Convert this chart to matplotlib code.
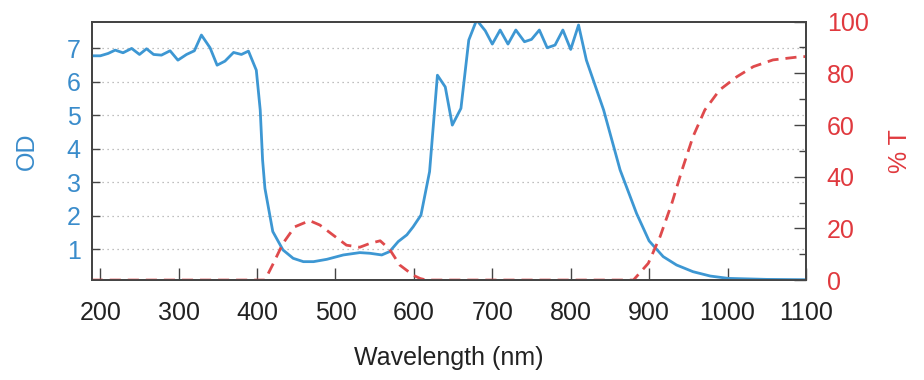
import matplotlib
matplotlib.use("Agg")
from matplotlib import pyplot as plt
from matplotlib.ticker import MultipleLocator

plt.rcParams["font.family"] = ["Liberation Sans", "DejaVu Sans"]

# densidad optica (OD)
od_nm = [189, 200, 210, 219, 229, 240, 250, 259, 268, 278, 289, 299, 310, 320, 329,
         340, 349, 359, 370, 380, 389, 399, 404, 407, 410, 420, 433, 446, 459, 472,
         489, 510, 531, 544, 559, 569, 580, 591, 599, 609, 620, 630, 640, 649, 660,
         670, 680, 691, 700, 710, 720, 730, 741, 750, 760, 770, 780, 790, 800, 810,
         820, 842, 863, 884, 900, 918, 935, 956, 978, 1001, 1050, 1100]
od_val = [6.78, 6.78, 6.85, 6.95, 6.87, 7.0, 6.82, 6.99, 6.82, 6.8, 6.93, 6.65, 6.82, 6.93, 7.4,
          7.02, 6.5, 6.62, 6.88, 6.82, 6.92, 6.35, 5.16, 3.67, 2.82, 1.53, 0.98, 0.73, 0.63, 0.63,
          0.70, 0.83, 0.90, 0.88, 0.83, 0.93, 1.23, 1.43, 1.67, 2.02, 3.32, 6.2, 5.85, 4.71, 5.21,
          7.25, 7.85, 7.53, 7.13, 7.55, 7.13, 7.55, 7.2, 7.27, 7.55, 7.02, 7.1, 7.55, 6.97, 7.7,
          6.65, 5.16, 3.37, 2.07, 1.25, 0.78, 0.53, 0.33, 0.2, 0.13, 0.1, 0.09]

# transmision (%T)
t_nm = [189, 410, 420, 433, 448, 467, 480, 497, 514, 531, 544, 557, 569, 582, 599,
        608, 616, 880, 899, 914, 929, 942, 956, 971, 990, 1012, 1033, 1058, 1092, 1100]
t_val = [0, 0, 6, 14.2, 20.6, 23, 21.3, 17.4, 13.5, 12.7, 14.2, 15.2, 11.9, 5.8, 1.9,
         0.6, 0, 0, 6.5, 16.8, 29.7, 42.6, 55.5, 65.8, 73.6, 78.7, 82.6, 85.2, 86.4, 86.5]

azul = "#3d97d3"
azul_txt = "#3a8ccb"
rojo = "#df4a4c"
rojo_txt = "#e0393e"
gris = "#444444"
tam = 18

fig = plt.figure(figsize=(9.24, 3.8), dpi=100)
ax = fig.add_axes([0.0992, 0.263, 0.773, 0.680])
ax2 = ax.twinx()

ax.plot(od_nm, od_val, color=azul, linewidth=2.0, zorder=3)
ax2.plot(t_nm, t_val, color=rojo, linewidth=2.0, linestyle=(0, (4, 2.5)))

ax.set_xlim(189, 1100)
ax.set_ylim(0.08, 7.8)
ax2.set_ylim(0, 100)

ax.set_xticks(range(200, 1101, 100))
ax.set_yticks(range(1, 8))
ax2.set_yticks(range(0, 101, 20))
ax2.yaxis.set_minor_locator(MultipleLocator(10))

ax.grid(axis="y", linestyle=(0, (1, 3)), color="#aaaaaa", linewidth=0.9)

ax.tick_params(axis="x", direction="in", length=8.5, width=1, color=gris, labelsize=tam,
               pad=15, labelcolor="#222222")
ax.tick_params(axis="y", direction="in", length=6, width=1, color=gris, labelsize=tam,
               labelcolor=azul_txt, pad=8)
ax2.tick_params(axis="y", which="major", direction="in", length=9, width=1, color=gris,
                labelsize=tam, labelcolor=rojo_txt, pad=15)
ax2.tick_params(axis="y", which="minor", direction="in", length=5, width=1, color=gris)

for a in (ax, ax2):
    for s in a.spines.values():
        s.set_color(gris)
        s.set_linewidth(1.3)

# titulos de ejes colocados a mano
fig.text(449 / 924, 1 - 358 / 380, "Wavelength (nm)", fontsize=tam, color="#222222",
         ha="center", va="center")
fig.text(27 / 924, 1 - 151 / 380, "OD", fontsize=tam, color=azul_txt,
         ha="center", va="center", rotation=90)
fig.text(900 / 924, 1 - 151 / 380, "% T", fontsize=tam, color=rojo_txt,
         ha="center", va="center", rotation=90)

fig.savefig("out.png", dpi=100)
plt.close(fig)
